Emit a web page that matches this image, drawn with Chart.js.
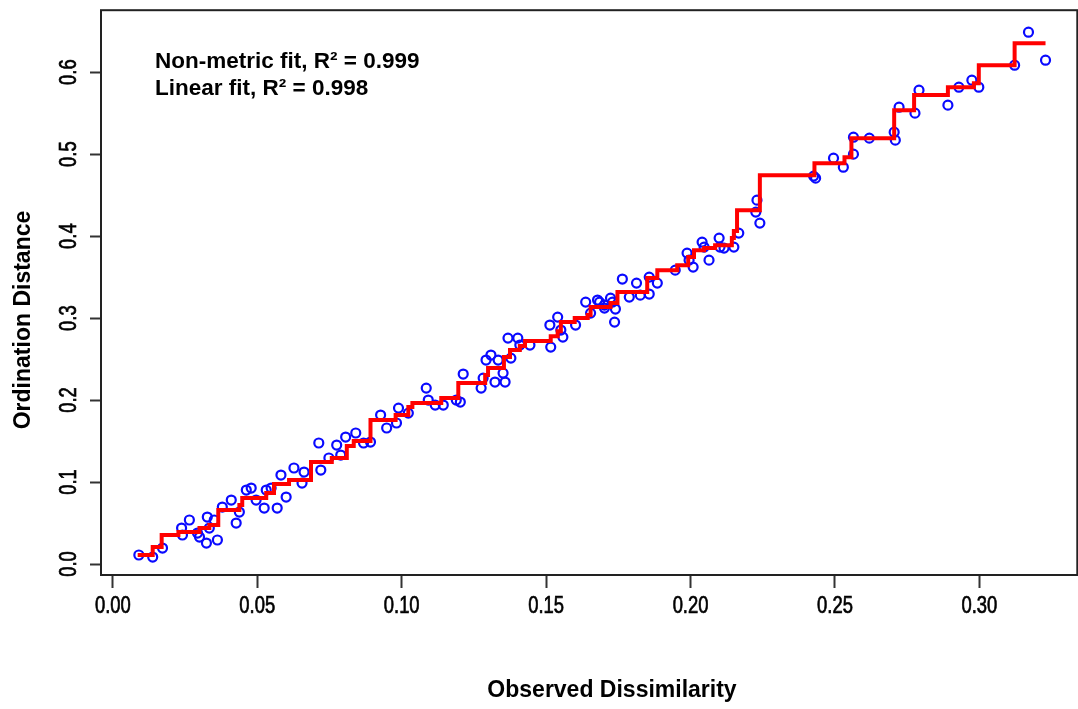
<!DOCTYPE html>
<html>
<head>
<meta charset="utf-8">
<script src="https://cdn.jsdelivr.net/npm/chart.js@4.4.0/dist/chart.umd.min.js"></script>
<style>
  html, body { margin: 0; padding: 0; background: #fff; overflow: hidden; }
</style>
</head>
<body>
<canvas id="shepard" width="1084" height="709"></canvas>
<script>
// Shepard diagram: observed dissimilarity vs ordination distance
const dissimilarity = [
  0.0090, 0.0138, 0.0172, 0.0238, 0.0241, 0.0265, 0.0293, 0.0300, 0.0324, 0.0334,
  0.0327, 0.0351, 0.0362, 0.0379, 0.0410, 0.0427, 0.0438, 0.0462, 0.0479, 0.0496,
  0.0524, 0.0531, 0.0548, 0.0569, 0.0582, 0.0600, 0.0627, 0.0655, 0.0662, 0.0713,
  0.0720, 0.0748, 0.0775, 0.0789, 0.0806, 0.0841, 0.0868, 0.0892, 0.0927, 0.0948,
  0.0982, 0.0989, 0.1023, 0.1085, 0.1092, 0.1116, 0.1144, 0.1189, 0.1203, 0.1213,
  0.1275, 0.1282, 0.1292, 0.1309, 0.1323, 0.1334, 0.1351, 0.1358, 0.1368, 0.1378,
  0.1402, 0.1409, 0.1444, 0.1513, 0.1516, 0.1540, 0.1551, 0.1558, 0.1602, 0.1637,
  0.1654, 0.1678, 0.1702, 0.1723, 0.1737, 0.1764, 0.1685, 0.1702, 0.1730, 0.1740,
  0.1788, 0.1813, 0.1826, 0.1857, 0.1857, 0.1885, 0.1947, 0.1988, 0.1995, 0.2009,
  0.2040, 0.2047, 0.2064, 0.2099, 0.2102, 0.2116, 0.2150, 0.2167, 0.2230, 0.2226,
  0.2240, 0.2426, 0.2433, 0.2495, 0.2529, 0.2564, 0.2564, 0.2619, 0.2705, 0.2709,
  0.2722, 0.2777, 0.2791, 0.2891, 0.2929, 0.2974, 0.2998, 0.3122, 0.3170, 0.3229
];
const ordinationDist = [
  0.0110, 0.0085, 0.0195, 0.0439, 0.0354, 0.0537, 0.0378, 0.0329, 0.0256, 0.0439,
  0.0573, 0.0537, 0.0293, 0.0695, 0.0780, 0.0500, 0.0634, 0.0902, 0.0927, 0.0780,
  0.0683, 0.0902, 0.0927, 0.0683, 0.1085, 0.0817, 0.1171, 0.0988, 0.1122, 0.1476,
  0.1146, 0.1293, 0.1451, 0.1329, 0.1549, 0.1598, 0.1476, 0.1488, 0.1817, 0.1659,
  0.1720, 0.1902, 0.1841, 0.2146, 0.2000, 0.1939, 0.1939, 0.2000, 0.1976, 0.2317,
  0.2146, 0.2268, 0.2488, 0.2549, 0.2220, 0.2488, 0.2329, 0.2220, 0.2756, 0.2512,
  0.2756, 0.2671, 0.2671, 0.2915, 0.2646, 0.3012, 0.2854, 0.2768, 0.2915, 0.3195,
  0.3061, 0.3220, 0.3159, 0.3244, 0.2951, 0.3476, 0.3195, 0.3122, 0.3195, 0.3110,
  0.3256, 0.3427, 0.3280, 0.3500, 0.3293, 0.3427, 0.3585, 0.3793, 0.3707, 0.3622,
  0.3927, 0.3866, 0.3707, 0.3976, 0.3866, 0.3854, 0.3866, 0.4037, 0.4439, 0.4293,
  0.4159, 0.4732, 0.4707, 0.4951, 0.4841, 0.5000, 0.5207, 0.5195, 0.5268, 0.5171,
  0.5573, 0.5500, 0.5780, 0.5598, 0.5817, 0.5902, 0.5817, 0.6085, 0.6488, 0.6146
];

// monotone (non-metric) fit, drawn as a step line
const fitX = [
  0.0086, 0.0138, 0.0169, 0.0227, 0.0300, 0.0334, 0.0365, 0.0438, 0.0448, 0.0531,
  0.0558, 0.0610, 0.0686, 0.0758, 0.0810, 0.0834, 0.0892, 0.0979, 0.1023, 0.1037,
  0.1137, 0.1196, 0.1289, 0.1299, 0.1354, 0.1375, 0.1409, 0.1427, 0.1516, 0.1540,
  0.1551, 0.1599, 0.1644, 0.1654, 0.1723, 0.1747, 0.1850, 0.1885, 0.1954, 0.1992,
  0.2012, 0.2047, 0.2085, 0.2143, 0.2150, 0.2161, 0.2240, 0.2429, 0.2533, 0.2557,
  0.2705, 0.2774, 0.2891, 0.2981, 0.2998, 0.3122, 0.3229
];
const fitY = [
  0.0110, 0.0207, 0.0354, 0.0390, 0.0439, 0.0476, 0.0659, 0.0720, 0.0805, 0.0866,
  0.0976, 0.1024, 0.1244, 0.1293, 0.1439, 0.1500, 0.1756, 0.1817, 0.1915, 0.1963,
  0.2024, 0.2207, 0.2305, 0.2390, 0.2524, 0.2610, 0.2659, 0.2720, 0.2780, 0.2841,
  0.2951, 0.3000, 0.3037, 0.3134, 0.3183, 0.3317, 0.3488, 0.3585, 0.3646, 0.3744,
  0.3829, 0.3854, 0.3890, 0.3976, 0.4061, 0.4317, 0.4744, 0.4890, 0.4963, 0.5195,
  0.5537, 0.5720, 0.5817, 0.5866, 0.6085, 0.6354, 0.6354
];

const xTicks = [0, 0.05, 0.10, 0.15, 0.20, 0.25, 0.30];
const yTicks = [0, 0.1, 0.2, 0.3, 0.4, 0.5, 0.6];
const fitLabels = ['Non-metric fit, R\u00B2 = 0.999', 'Linear fit, R\u00B2 = 0.998'];
const xTitle = 'Observed Dissimilarity';
const yTitle = 'Ordination Distance';

const sansFont = "'Liberation Sans', Arial, sans-serif";

// narrow, slightly heavy tick label, like the squeezed R output
function narrowText(ctx, text, x, y, angle) {
  ctx.save();
  ctx.translate(x, y);
  ctx.rotate(angle);
  ctx.scale(0.8, 1);
  ctx.fillText(text, 0, 0);
  ctx.strokeText(text, 0, 0);
  ctx.restore();
}

// box, tick labels, axis titles and the fit text, R style
const rDecor = {
  id: 'rDecor',
  afterDraw(chart) {
    const { ctx, chartArea: a, scales } = chart;
    ctx.save();
    ctx.strokeStyle = '#222';
    ctx.lineWidth = 2;
    ctx.strokeRect(a.left, a.top, a.right - a.left, a.bottom - a.top);

    ctx.fillStyle = '#000';
    ctx.strokeStyle = '#000';
    ctx.lineWidth = 0.7;
    ctx.textAlign = 'center';
    ctx.textBaseline = 'middle';
    ctx.font = '23px ' + sansFont;
    yTicks.forEach(v => narrowText(ctx, v.toFixed(1), 70, scales.y.getPixelForValue(v), -Math.PI / 2));
    xTicks.forEach(v => narrowText(ctx, v.toFixed(2), scales.x.getPixelForValue(v), 607, 0));

    ctx.font = 'bold 23px ' + sansFont;
    ctx.fillText(xTitle, 612, 691);
    ctx.save();
    ctx.translate(24, 320);
    ctx.rotate(-Math.PI / 2);
    ctx.fillText(yTitle, 0, 0);
    ctx.restore();

    ctx.textAlign = 'left';
    ctx.font = 'bold 22.5px ' + sansFont;
    fitLabels.forEach((t, i) => ctx.fillText(t, 155, 62 + i * 27));
    ctx.restore();
  }
};

new Chart(document.getElementById('shepard'), {
  type: 'scatter',
  data: {
    datasets: [
      {
        type: 'line',
        data: fitX.map((x, i) => ({ x, y: fitY[i] })),
        stepped: 'before',
        borderColor: '#ff0000',
        borderWidth: 4,
        pointRadius: 0,
        fill: false
      },
      {
        data: dissimilarity.map((x, i) => ({ x, y: ordinationDist[i] })),
        pointStyle: 'circle',
        pointRadius: 4.5,
        borderWidth: 2.2,
        borderColor: '#0a0aff',
        backgroundColor: 'rgba(0,0,0,0)'
      }
    ]
  },
  options: {
    responsive: false,
    animation: false,
    devicePixelRatio: 1,
    layout: { padding: { top: 10, right: 2, left: 0, bottom: 0 } },
    plugins: { legend: { display: false }, tooltip: { enabled: false } },
    scales: {
      x: {
        type: 'linear',
        min: -0.0041,
        max: 0.3339,
        afterBuildTicks: s => { s.ticks = xTicks.map(v => ({ value: v })); },
        afterFit: s => { s.height = 134; },
        border: { display: false },
        grid: { drawOnChartArea: false, tickLength: 13, tickColor: '#333', tickWidth: 2 },
        ticks: { callback: v => v.toFixed(2), color: 'rgba(0,0,0,0)' }
      },
      y: {
        type: 'linear',
        min: -0.0134,
        max: 0.6756,
        afterBuildTicks: s => { s.ticks = yTicks.map(v => ({ value: v })); },
        afterFit: s => { s.width = 101; },
        border: { display: false },
        grid: { drawOnChartArea: false, tickLength: 11, tickColor: '#333', tickWidth: 2 },
        ticks: { callback: v => v.toFixed(1), color: 'rgba(0,0,0,0)' }
      }
    }
  },
  plugins: [rDecor]
});
</script>
</body>
</html>
